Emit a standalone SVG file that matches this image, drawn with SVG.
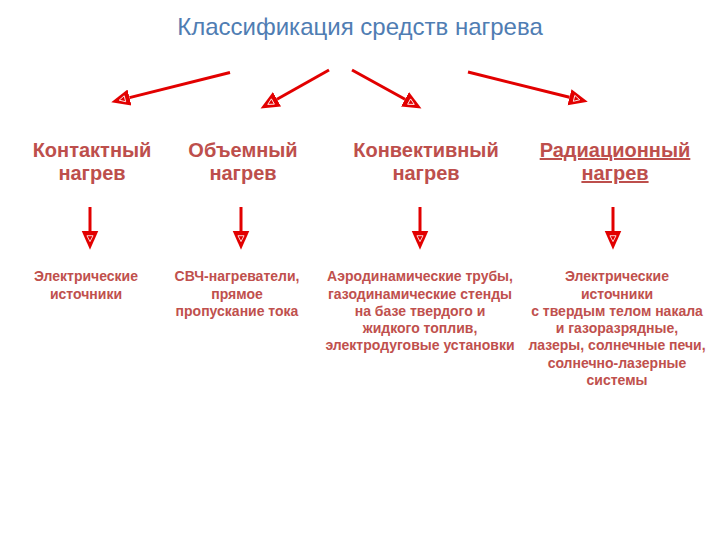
<svg xmlns="http://www.w3.org/2000/svg" width="720" height="540" viewBox="0 0 720 540">
<defs>
<marker id="ah" markerUnits="userSpaceOnUse" markerWidth="20" markerHeight="20" viewBox="0 -8 17 16" refX="0" refY="0" orient="auto">
<path d="M0,-7 L16,0 L0,7 z" fill="#e20000"/>
<path d="M4,-2.6 L9,0 L4,2.6 z" fill="none" stroke="#ffffff" stroke-width="0.7"/>
</marker>
</defs>
<style>
.title{font-family:"Liberation Sans",Arial,sans-serif;font-size:24px;fill:#4f7db3;text-anchor:middle}
.head{font-family:"Liberation Sans",Arial,sans-serif;font-size:20px;font-weight:bold;fill:#bd4f4c;text-anchor:middle}
.desc{font-family:"Liberation Sans",Arial,sans-serif;font-size:14px;font-weight:bold;fill:#c0504d;text-anchor:middle}
.arr{stroke:#e20000;stroke-width:3;fill:none;marker-end:url(#ah)}
</style>
<rect width="720" height="540" fill="#ffffff"/>
<g id="title"><text class="title" x="360" y="35">Классификация средств нагрева</text></g>
<g id="connectors">
<line class="arr" x1="230" y1="72.5" x2="129.5" y2="97.6"/>
<line class="arr" x1="329" y1="70" x2="277" y2="99.2"/>
<line class="arr" x1="352" y1="70" x2="405" y2="99.3"/>
<line class="arr" x1="468" y1="72" x2="569.5" y2="97.2"/>
<line class="arr" x1="90" y1="207" x2="90" y2="231"/>
<line class="arr" x1="241" y1="207" x2="241" y2="231"/>
<line class="arr" x1="420" y1="207" x2="420" y2="231"/>
<line class="arr" x1="613" y1="207" x2="613" y2="231"/>
</g>
<g id="contact"><text class="head" x="92" y="157">Контактный</text><text class="head" x="92" y="180">нагрев</text></g>
<g id="volume"><text class="head" x="243" y="157">Объемный</text><text class="head" x="243" y="180">нагрев</text></g>
<g id="convective"><text class="head" x="426" y="157">Конвективный</text><text class="head" x="426" y="180">нагрев</text></g>
<g id="radiation"><text class="head" x="615" y="157" text-decoration="underline">Радиационный</text><text class="head" x="615" y="180" text-decoration="underline">нагрев</text></g>
<g id="desc1"><text class="desc" x="86" y="281">Электрические</text><text class="desc" x="86" y="299">источники</text></g>
<g id="desc2"><text class="desc" x="237" y="281">СВЧ-нагреватели,</text><text class="desc" x="237" y="299">прямое</text><text class="desc" x="237" y="316">пропускание тока</text></g>
<g id="desc3"><text class="desc" x="420" y="281">Аэродинамические трубы,</text><text class="desc" x="420" y="299">газодинамические стенды</text><text class="desc" x="420" y="316">на базе твердого и</text><text class="desc" x="420" y="333">жидкого топлив,</text><text class="desc" x="420" y="350">электродуговые установки</text></g>
<g id="desc4"><text class="desc" x="617" y="281">Электрические</text><text class="desc" x="617" y="299">источники</text><text class="desc" x="617" y="316">с твердым телом накала</text><text class="desc" x="617" y="333">и газоразрядные,</text><text class="desc" x="617" y="350">лазеры, солнечные печи,</text><text class="desc" x="617" y="368">солнечно-лазерные</text><text class="desc" x="617" y="385">системы</text></g>
</svg>
